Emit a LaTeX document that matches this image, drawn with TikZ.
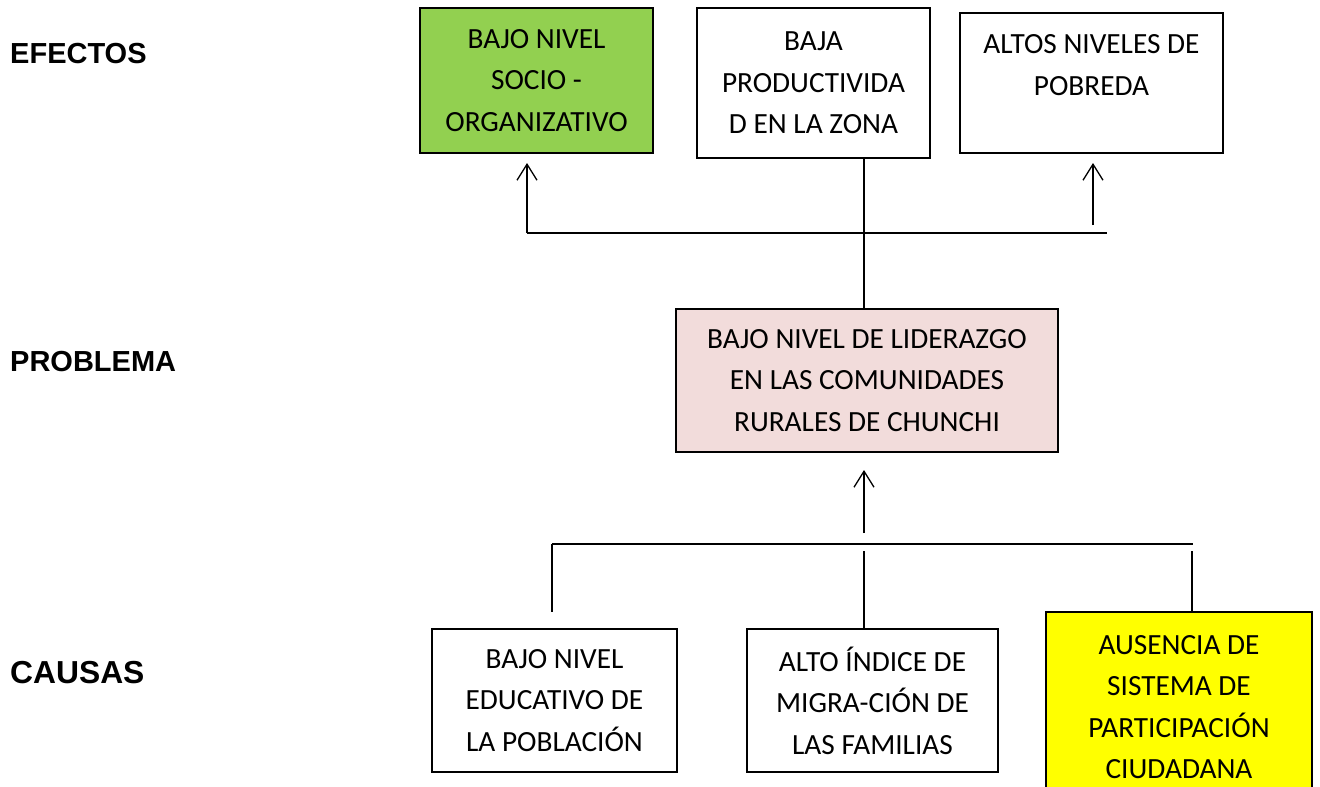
\documentclass[tikz,border=0pt]{standalone}
\usepackage{fontspec}
\setmainfont{Carlito}
\newfontfamily\lblfont{Liberation Sans}
\usetikzlibrary{arrows.meta}
\definecolor{effgreen}{HTML}{92D050}
\definecolor{probpink}{HTML}{F2DCDB}
\definecolor{causeyellow}{HTML}{FFFF00}
\begin{document}
\begin{tikzpicture}[x=1pt,y=-1pt,
  box/.style={draw=black,line width=1.3pt,rectangle,inner sep=0pt,align=center,
    font=\fontsize{29.3}{41.5}\selectfont},
  lbl/.style={anchor=west,inner sep=0pt,font=\lblfont\bfseries\fontsize{29}{34}\selectfont},
  conn/.style={line width=1.3pt},
  arr/.style={conn,-{Straight Barb[length=16pt,width=20pt,line width=1.3pt]}}]
\useasboundingbox (0,0) rectangle (1320,787);
% labels
\node[lbl] (lefx) at (10,54) {EFECTOS};
\node[lbl] (lprob) at (10,362) {PROBLEMA};
\node[lbl,font=\lblfont\bfseries\fontsize{31.8}{36}\selectfont] (lcaus) at (10,673) {CAUSAS};
% effects
\node[box,fill=effgreen,minimum width=233pt,minimum height=145pt] (eff1) at (536.5,80.5)
  {BAJO NIVEL\\SOCIO -\\ORGANIZATIVO};
\node[box,fill=white,minimum width=233pt,minimum height=150pt] (eff2) at (813.5,83)
  {BAJA\\PRODUCTIVIDA\\D EN LA ZONA};
\node[box,fill=white,minimum width=263pt,minimum height=140pt] (eff3) at (1091.5,83)
  {ALTOS NIVELES DE\\POBREDA\\[-18pt]\strut};
% problem
\node[box,fill=probpink,minimum width=382pt,minimum height=143pt] (prob) at (867,380.5)
  {BAJO NIVEL DE LIDERAZGO\\EN LAS COMUNIDADES\\RURALES DE CHUNCHI};
% causes
\node[box,fill=white,minimum width=245pt,minimum height=143pt] (c1) at (554.5,700.5)
  {BAJO NIVEL\\EDUCATIVO DE\\LA POBLACIÓN};
\node[box,fill=white,minimum width=251pt,minimum height=143pt] (c2) at (872.5,700.5)
  {ALTO ÍNDICE DE\\MIGRA-CIÓN DE\\LAS FAMILIAS};
\node[box,fill=causeyellow,minimum width=266pt,minimum height=190pt] (c3) at (1179,707)
  {AUSENCIA DE\\SISTEMA DE\\PARTICIPACIÓN\\CIUDADANA};
% top connectors
\coordinate (tl) at (527,233);
\coordinate (tr) at (1107,233);
\coordinate (tm) at (864,233);
\coordinate (a1) at (527,163);
\coordinate (a3s) at (1093,225);
\coordinate (a3) at (1093,163);
\draw[conn] (tl) -- (tr);
\draw[arr] (tl) -- (a1);
\draw[arr] (a3s) -- (a3);
\draw[conn] (tm |- eff2.south) -- (tm);
\draw[conn] (tm) -- (tm |- prob.north);
% bottom connectors
\coordinate (bl) at (552,544);
\coordinate (br) at (1193,544);
\coordinate (bls) at (552,612);
\coordinate (pa) at (864,533);
\coordinate (pt) at (864,470);
\coordinate (mtop) at (864,551);
\coordinate (rtop) at (1192,551);
\draw[conn] (bl) -- (br);
\draw[arr] (pa) -- (pt);
\draw[conn] (bl) -- (bls);
\draw[conn] (mtop) -- (mtop |- c2.north);
\draw[conn] (rtop) -- (rtop |- c3.north);
\end{tikzpicture}
\end{document}
